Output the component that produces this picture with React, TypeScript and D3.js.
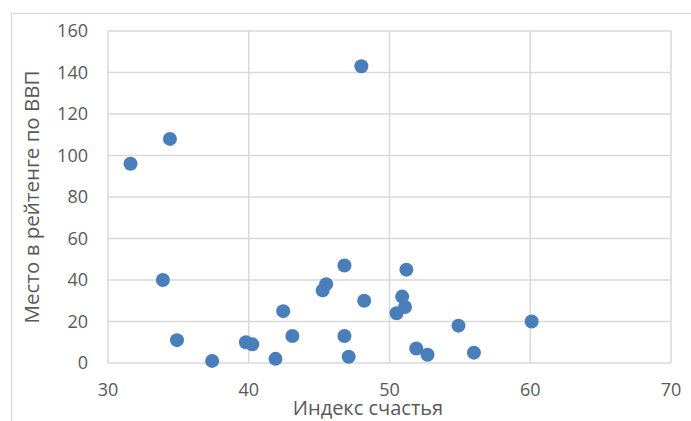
import React from "react";
import * as d3 from "d3";

const happiness = [31.6, 34.4, 48.0, 33.9, 34.9, 37.4, 39.8, 40.25, 41.9, 42.45, 43.1, 45.25, 45.5, 46.8, 46.8, 47.1, 48.2, 51.2, 50.9, 51.1, 50.5, 54.9, 60.1, 51.9, 52.7, 56.0];
const gdpRank = [96, 108, 143, 40, 11, 1, 10, 9, 2, 25, 13, 35, 38, 47, 13, 3, 30, 45, 32, 27, 24, 18, 20, 7, 4, 5];
const xTicks = [30, 40, 50, 60, 70];
const yTicks = [0, 20, 40, 60, 80, 100, 120, 140, 160];
const xTitle = "Индекс счастья";
const yTitle = "Место в рейтенге по ВВП";

const W = 691;
const H = 421;
const left = 108, right = 671, top = 31, bottom = 363;

export default function App() {
  const x = d3.scaleLinear().domain([30, 70]).range([left, right]);
  const y = d3.scaleLinear().domain([0, 160]).range([bottom, top]);
  const font = "'Open Sans', 'Liberation Sans', sans-serif";
  const grid = "#d9d9d9";
  return (
    <svg width={W} height={H} style={{ position: "absolute", left: 0, top: 0 }}>
      <rect x={0} y={0} width={W} height={H} fill="#fff" />
      <rect x={11.5} y={13.5} width={W + 20} height={H + 20} fill="none" stroke={grid} strokeWidth={1.3} />
      {yTicks.map((t) => (
        <line key={"gy" + t} x1={left} x2={right} y1={y(t)} y2={y(t)} stroke={grid} strokeWidth={1.5} />
      ))}
      {xTicks.map((t) => (
        <line key={"gx" + t} x1={x(t)} x2={x(t)} y1={top} y2={bottom} stroke={grid} strokeWidth={1.5} />
      ))}
      {yTicks.map((t) => (
        <text key={"ty" + t} x={88} y={y(t)} dy="0.35em" textAnchor="end" fontFamily={font} fontSize={18} fill="#595959">
          {t}
        </text>
      ))}
      {xTicks.map((t) => (
        <text key={"tx" + t} x={x(t)} y={396} textAnchor="middle" fontFamily={font} fontSize={18} fill="#595959">
          {t}
        </text>
      ))}
      <text x={368} y={415} textAnchor="middle" fontFamily={font} fontSize={20} fill="#595959">
        {xTitle}
      </text>
      <text
        transform={`translate(39, 197) rotate(-90)`}
        textAnchor="middle"
        fontFamily={font}
        fontSize={20.5}
        fill="#595959"
      >
        {yTitle}
      </text>
      {happiness.map((v, i) => (
        <circle key={"p" + i} cx={x(v)} cy={y(gdpRank[i])} r={7} fill="#4a7ebb" />
      ))}
    </svg>
  );
}
